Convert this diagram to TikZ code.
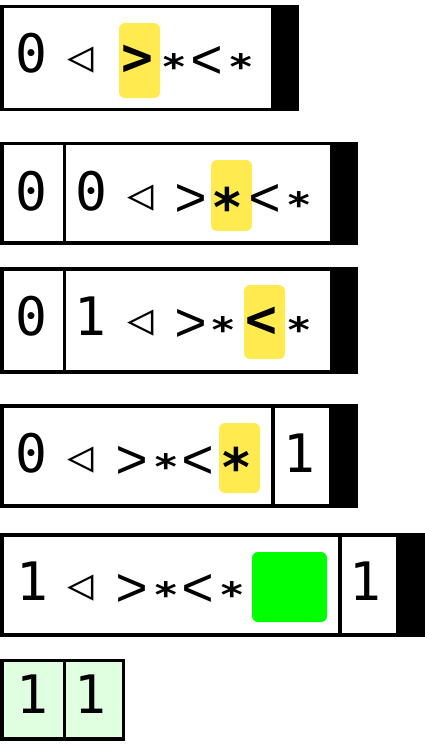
\documentclass[tikz,border=0pt]{standalone}
\usepackage{graphicx}
\usepackage{fontspec}
\setmonofont{DejaVu Sans Mono}
\newfontfamily\thinmono{Liberation Mono}
\definecolor{hl}{HTML}{FFEB50}
\definecolor{go}{HTML}{00FF00}
\definecolor{lg}{HTML}{E0FFE0}
\newcommand{\flatstar}{\scalebox{0.8}[0.66]{\bfseries *}}
\begin{document}
\begin{tikzpicture}[x=1pt,y=-1pt,
  frame/.style={draw=black, line width=3.5pt, fill=white},
  divider/.style={draw=black, line width=3.5pt},
  endcell/.style={fill=black},
  ch/.style={font=\ttfamily\fontsize{53}{60}\selectfont, inner sep=0pt, outer sep=0pt, anchor=base},
  sym/.style={ch, anchor=north},
  thin/.style={sym, font=\thinmono\fontsize{55}{60}\selectfont},
  bsym/.style={sym, font=\ttfamily\bfseries\fontsize{53}{60}\selectfont},
  tri/.style={sym, font=\ttfamily\fontsize{44}{50}\selectfont},
  hlbox/.style={fill=hl, rounded corners=6pt},
  gobox/.style={fill=go, rounded corners=6pt},
]
\useasboundingbox (0,0) rectangle (425,750);
% row 1 (baseline 72)
\draw[frame] (1.75,6.5) rectangle (297.5,109.5);
\fill[hlbox] (119,23) rectangle (160,98);
\fill[endcell] (271,6.5) rectangle (297.5,109.5);
\node[ch] (r1a) at (31.5,72) {0};
\node[tri] (r1b) at (81,47) {◁};
\node[bsym] (r1c) at (137.5,45) {>};
\node[sym] (r1d) at (174,53.5) {\flatstar};
\node[thin] (r1e) at (207,46) {<};
\node[sym] (r1f) at (241,53.5) {\flatstar};
% row 2 (baseline 210)
\draw[frame] (1.75,143.5) rectangle (356,243);
\fill[hlbox] (211,160) rectangle (252,231);
\fill[endcell] (330,143.5) rectangle (356,243);
\draw[divider] (64.5,143.5) -- (64.5,243);
\node[ch] (r2a) at (31.5,210) {0};
\node[ch] (r2b) at (91,210) {0};
\node[tri] (r2c) at (141,185) {◁};
\node[thin] (r2d) at (191.5,184) {>};
\node[bsym] (r2e) at (227,187) {*};
\node[thin] (r2f) at (265,184) {<};
\node[sym] (r2g) at (299,191.5) {\flatstar};
% row 3 (baseline 335)
\draw[frame] (1.75,269) rectangle (356,372);
\fill[hlbox] (244,285) rectangle (285,359);
\fill[endcell] (330,269) rectangle (356,372);
\draw[divider] (64.5,269) -- (64.5,372);
\node[ch] (r3a) at (31.5,335) {0};
\node[ch] (r3b) at (90.5,335) {1};
\node[tri] (r3c) at (141,310) {◁};
\node[thin] (r3d) at (191.5,309) {>};
\node[sym] (r3e) at (223,316.5) {\flatstar};
\node[bsym] (r3f) at (261,307) {<};
\node[sym] (r3g) at (299,316.5) {\flatstar};
% row 4 (baseline 472)
\draw[frame] (1.75,406) rectangle (356,506);
\fill[hlbox] (219,423) rectangle (260,493);
\fill[endcell] (329,406) rectangle (356,506);
\draw[divider] (273,406) -- (273,506);
\node[ch] (r4a) at (31.5,472) {0};
\node[tri] (r4b) at (81,447) {◁};
\node[thin] (r4c) at (132.5,446) {>};
\node[sym] (r4d) at (166,453.5) {\flatstar};
\node[thin] (r4e) at (198.5,446) {<};
\node[bsym] (r4f) at (236,447) {*};
\node[ch] (r4g) at (299,472) {1};
% row 5 (baseline 600)
\draw[frame] (1.75,535) rectangle (428,635);
\fill[gobox] (252,552) rectangle (327,622);
\fill[endcell] (396,535) rectangle (428,635);
\draw[divider] (340,535) -- (340,635);
\node[ch] (r5a) at (32,600) {1};
\node[tri] (r5b) at (81,575) {◁};
\node[thin] (r5c) at (132.5,574) {>};
\node[sym] (r5d) at (166,581.5) {\flatstar};
\node[thin] (r5e) at (198.5,574) {<};
\node[sym] (r5f) at (232.5,581.5) {\flatstar};
\node[ch] (r5g) at (365.5,600) {1};
% row 6 (baseline 713)
\draw[frame, fill=lg] (1.75,660.5) rectangle (123.5,739);
\draw[divider] (64.5,660.5) -- (64.5,739);
\node[ch] (r6a) at (32,713) {1};
\node[ch] (r6b) at (90.5,713) {1};
\end{tikzpicture}
\end{document}
